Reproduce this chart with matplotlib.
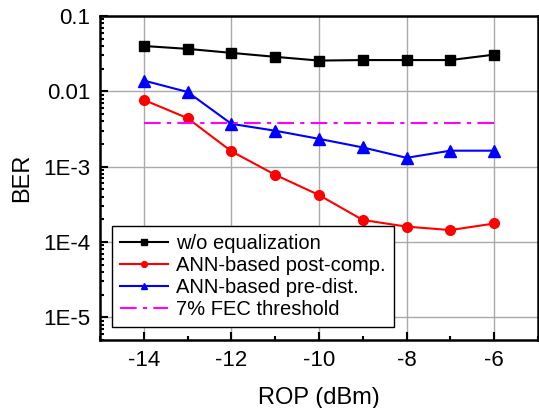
import numpy as np
import matplotlib
matplotlib.use("Agg")
import matplotlib.pyplot as plt
from matplotlib.ticker import FixedLocator, FixedFormatter, LogLocator, MultipleLocator

plt.rcParams['font.family'] = ['Liberation Sans', 'DejaVu Sans']
plt.rcParams['axes.unicode_minus'] = False

# === DATA ===
rop = [-14, -13, -12, -11, -10, -9, -8, -7, -6]
ber_wo = [0.040, 0.0366, 0.0324, 0.0287, 0.0256, 0.026, 0.026, 0.026, 0.0307]
ber_post = [0.0077, 0.0044, 0.0016, 7.8e-4, 4.2e-4, 1.96e-4, 1.6e-4, 1.44e-4, 1.76e-4]
ber_pre = [0.0139, 0.0098, 0.0037, 0.0030, 0.00234, 0.0018, 0.00131, 0.00163, 0.00163]
fec_x = [-14, -6]
fec_y = [0.0038, 0.0038]

ytick_vals = [1e-5, 1e-4, 1e-3, 1e-2, 1e-1]
ytick_labels = ["1E-5", "1E-4", "1E-3", "0.01", "0.1"]
xtick_vals = [-14, -12, -10, -8, -6]

# === PLOT ===
fig = plt.figure(figsize=(5.39, 4.08), dpi=100)
ax = fig.add_axes([100/539, (408-340)/408, 438/539, 324/408])

ax.plot(rop, ber_wo, color="black", marker="s", ms=7, lw=1.5, label="w/o equalization")
ax.plot(rop, ber_post, color="red", marker="o", ms=7, lw=1.5, label="ANN-based post-comp.")
ax.plot(rop, ber_pre, color="blue", marker="^", ms=8, lw=1.5, label="ANN-based pre-dist.")
ax.plot(fec_x, fec_y, color="magenta", ls=(0, (8, 3, 2, 3)), lw=1.5, label="7% FEC threshold")

ax.set_yscale("log")
ax.set_xlim(-15, -5)
ax.set_ylim(5e-6, 0.1)

ax.yaxis.set_major_locator(FixedLocator(ytick_vals))
ax.yaxis.set_major_formatter(FixedFormatter(ytick_labels))
ax.yaxis.set_minor_locator(LogLocator(base=10, subs=np.arange(2, 10), numticks=20))
ax.yaxis.set_minor_formatter(plt.NullFormatter())
ax.xaxis.set_major_locator(FixedLocator(xtick_vals))
ax.xaxis.set_minor_locator(MultipleLocator(1))

ax.tick_params(which="both", direction="in", labelsize=16, width=1.5)
ax.tick_params(which="major", length=6, pad=7)
ax.tick_params(which="minor", length=3)
ax.grid(True, which="major", color="#aaaaaa", lw=1)
ax.set_axisbelow(True)
for s in ax.spines.values():
    s.set_linewidth(1.8)

ax.set_xlabel("ROP (dBm)", fontsize=17, labelpad=12)
ax.set_ylabel("BER", fontsize=17, labelpad=7)

leg = ax.legend(loc="lower left", bbox_to_anchor=(0.027, 0.04), borderaxespad=0,
                fontsize=14.5, frameon=True, fancybox=False, edgecolor="black",
                framealpha=1, handlelength=2.4, borderpad=0.4, labelspacing=0.15,
                handletextpad=0.4, markerscale=0.6)
leg.get_frame().set_linewidth(1.0)

fig.savefig("out.png", dpi=100)
